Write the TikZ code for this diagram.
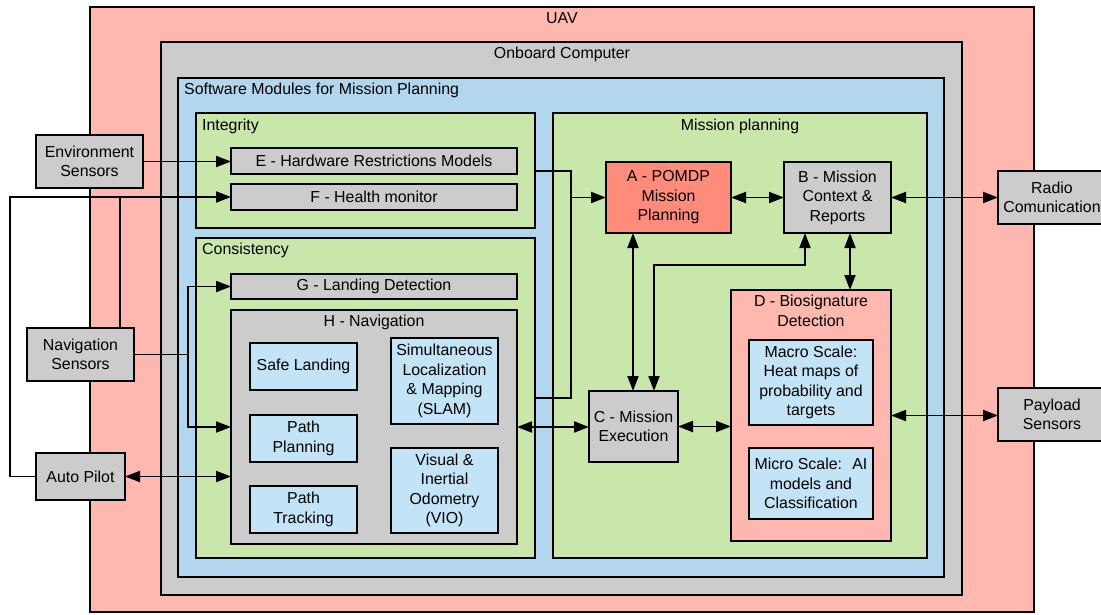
\documentclass[tikz,border=0pt]{standalone}
\usepackage{fontspec}
\setmainfont{Liberation Sans}
\usetikzlibrary{arrows.meta}
\definecolor{uavpink}{HTML}{FFB8AF}
\definecolor{obgray}{HTML}{CCCCCC}
\definecolor{swblue}{HTML}{B3D6EF}
\definecolor{modgreen}{HTML}{C9E7AB}
\definecolor{lightblue}{HTML}{C2E4F6}
\definecolor{apink}{HTML}{FF8B7B}
\newcommand\txtfont{\fontsize{15.9}{19.5}\selectfont}
% \mkbox{name}{x1}{y1}{x2}{y2}{fill}{text}
\newcommand\mkbox[7]{%
  \node[box, fill=#6, minimum width={#4pt-#2pt}, minimum height={#5pt-#3pt}] (#1) at (#2,#3) {#7};}
\begin{document}
\begin{tikzpicture}[x=1pt,y=-1pt,
  box/.style={draw=black, line width=1.5pt, anchor=north west, inner sep=0pt,
              outer sep=0pt, align=center, font=\txtfont},
  ttl/.style={inner sep=0pt, font=\txtfont, align=center},
  link/.style={line width=1.9pt},
  tip/.tip={Triangle[length=15pt,width=11pt]},
  arr/.style={link, -tip},
  darr/.style={link, tip-tip}]
\useasboundingbox (0,0) rectangle (1101,614);

% nested containers
\mkbox{uav}{90}{7}{1034}{612}{uavpink}{}
\node[ttl] (uavt) at (562,18) {UAV};
\mkbox{obc}{161}{42}{962}{595}{obgray}{}
\node[ttl] (obct) at (562,54) {Onboard Computer};
\mkbox{sw}{178}{78}{944}{577}{swblue}{}
\node[ttl, anchor=west] (swt) at (184,90) {Software Modules for Mission Planning};

% integrity group
\mkbox{integ}{196}{113}{535}{228}{modgreen}{}
\node[ttl, anchor=west] (integt) at (202,126) {Integrity};
\mkbox{E}{231}{148}{517}{174}{obgray}{E - Hardware Restrictions Models}
\mkbox{F}{231}{184}{517}{210}{obgray}{F - Health monitor}

% consistency group
\mkbox{cons}{196}{238}{535}{558}{modgreen}{}
\node[ttl, anchor=west] (const) at (202,250) {Consistency};
\mkbox{G}{231}{274}{517}{299}{obgray}{G - Landing Detection}
\mkbox{H}{231}{310}{517}{544}{obgray}{}
\node[ttl] (Ht) at (374,322) {H - Navigation};
\mkbox{safe}{250}{343}{357}{390}{lightblue}{Safe Landing}
\mkbox{ppl}{250}{415}{357}{462}{lightblue}{Path\\Planning}
\mkbox{ptr}{250}{486}{357}{533}{lightblue}{Path\\Tracking}
\mkbox{slam}{391}{338}{498}{424}{lightblue}{Simultaneous\\Localization\\\& Mapping\\(SLAM)}
\mkbox{vio}{391}{448}{498}{533}{lightblue}{Visual \&\\Inertial\\Odometry\\(VIO)}

% mission planning group
\mkbox{mp}{553}{113}{927}{558}{modgreen}{}
\node[ttl] (mpt) at (740,126) {Mission planning};
\mkbox{A}{606}{162}{731}{233}{apink}{A - POMDP\\Mission\\Planning}
\mkbox{B}{784}{162}{891}{233}{obgray}{B - Mission\\Context \&\\Reports}
\mkbox{C}{589}{391}{678}{462}{obgray}{C - Mission\\Execution}
\mkbox{D}{731}{290}{891}{541}{uavpink}{}
\node[ttl] (Dt) at (811,311) {D - Biosignature\\Detection};
\mkbox{macro}{749}{340}{873}{425}{lightblue}{Macro Scale:\\Heat maps of\\probability and\\targets}
\mkbox{micro}{749}{448}{873}{519}{lightblue}{Micro Scale:~ AI\\models and\\Classification}

% external devices
\mkbox{env}{36}{135}{143}{188}{obgray}{Environment\\Sensors}
\mkbox{nav}{27}{328}{134}{381}{obgray}{Navigation\\Sensors}
\mkbox{ap}{36}{453}{125}{500}{obgray}{Auto Pilot}
\mkbox{radio}{998}{171}{1106}{224}{obgray}{Radio\\Comunication}
\mkbox{pay}{998}{388}{1106}{441}{obgray}{Payload\\Sensors}

% junction points
\coordinate (apl) at (10,0);
\coordinate (nvx) at (120,0);
\coordinate (nsj) at (188,354.5);
\coordinate (j1) at (571,171);
\coordinate (j2) at (571,398);
\coordinate (acx) at (633,0);
\coordinate (bcx) at (805,265);
\coordinate (cbx) at (654,265);
\coordinate (bdx) at (850,0);

% sensor and autopilot feeds
\draw[arr] (env.east) -- (env.east -| E.west);
\draw[arr] (ap.west) -- (ap.west -| apl) |- (F.west);
\draw[link] (nav.north -| nvx) -- (F.west -| nvx);
\draw[link] (nav.east) -- (nsj);
\draw[arr] (nsj) |- (G.west);
\draw[arr] (nsj) |- (H.west);
\draw[darr] (ap.east) -- (ap.east -| H.west);

% module links
\draw[link] (j1 -| integ.east) -- (j1) -- (j2) -- (j2 -| cons.east);
\draw[arr] (j1 |- A.west) -- (A.west);
\draw[darr] (A.east) -- (B.west);
\draw[darr] (acx |- A.south) -- (acx |- C.north);
\draw[darr] (bcx |- B.south) -- (bcx) -- (cbx) -- (cbx |- C.north);
\draw[darr] (bdx |- B.south) -- (bdx |- D.north);
\draw[darr] (B.east) -- (B.east -| radio.west);
\draw[darr] (H.east) -- (H.east -| C.west);
\draw[darr] (C.east) -- (C.east -| D.west);
\draw[darr] (D.east) -- (D.east -| pay.west);
\end{tikzpicture}
\end{document}
